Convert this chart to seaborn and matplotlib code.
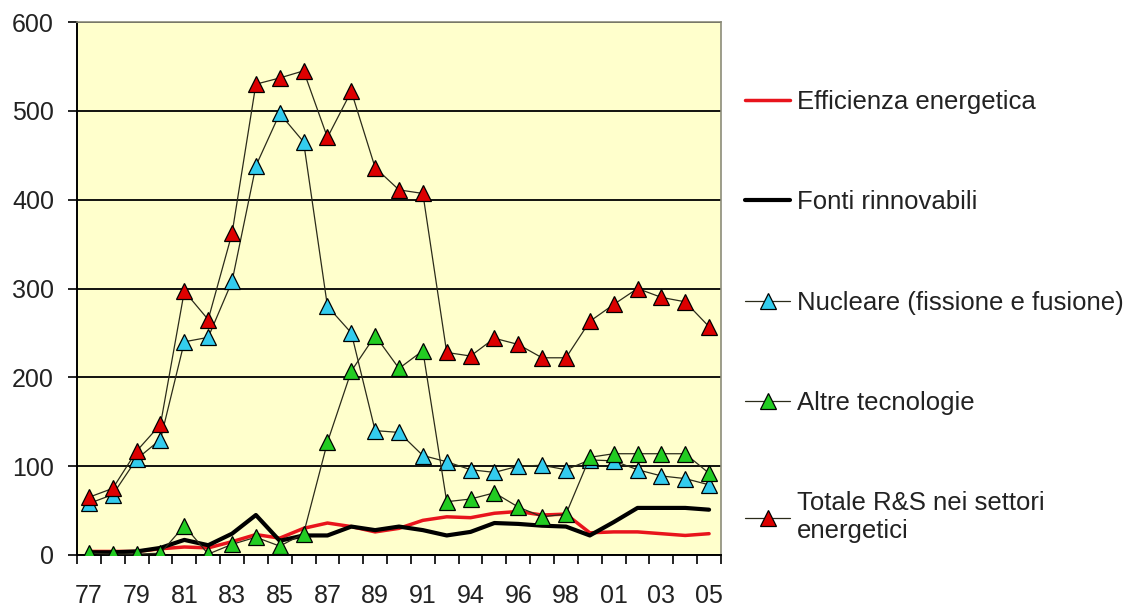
import matplotlib
matplotlib.use("Agg")
import matplotlib.pyplot as plt
import numpy as np
import seaborn as sns

# Years on the category axis (two years have no data in the source series)
years = ["77", "78", "79", "80", "81", "82", "83", "84", "85", "86", "87", "88",
         "89", "90", "91", "93", "94", "95", "96", "97", "98", "00", "01", "02",
         "03", "04", "05"]

efficienza = [4, 4, 4, 7, 9, 8, 15, 23, 19, 30, 36, 32, 26, 30, 39, 43, 42, 47,
              49, 45, 46, 25, 26, 26, 24, 22, 24]
fonti = [3, 3, 4, 8, 17, 11, 24, 45, 16, 22, 22, 32, 28, 32, 28, 22, 26, 36,
         35, 33, 32, 22, 37, 53, 53, 53, 51]
nucleare = [58, 68, 108, 130, 240, 245, 308, 438, 497, 465, 280, 250, 140, 138,
            112, 105, 96, 93, 100, 101, 96, 107, 106, 96, 89, 86, 79]
altre = [2, 1, 1, 2, 33, 1, 12, 20, 10, 24, 127, 207, 247, 210, 230, 60, 63,
         70, 54, 43, 46, 110, 114, 114, 114, 114, 92]
totale = [65, 75, 117, 147, 297, 265, 362, 530, 537, 545, 470, 522, 436, 411,
          407, 228, 224, 244, 237, 222, 222, 263, 282, 300, 290, 285, 257]

sns.set_theme(style="white")
plt.rcParams["font.family"] = ["Liberation Sans", "DejaVu Sans"]

fig = plt.figure(figsize=(11.36, 6.06), dpi=100)
ax = fig.add_axes([77 / 1136, 1 - 555 / 606, (721 - 77) / 1136, (555 - 22) / 606])
ax.set_facecolor("#FFFFCC")

x = np.arange(len(years))
connector = "#2b2b1a"

sns.lineplot(x=x, y=efficienza, ax=ax, color="#E8141C", linewidth=2.5,
             label="Efficienza energetica", zorder=3)
sns.lineplot(x=x, y=fonti, ax=ax, color="black", linewidth=3.0,
             label="Fonti rinnovabili", zorder=3)
marker_series = [
    (nucleare, "#33CCEE", "Nucleare (fissione e fusione)"),
    (altre, "#22CC22", "Altre tecnologie"),
    (totale, "#DD0000", "Totale R&S nei settori\nenergetici"),
]
for vals, face, lab in marker_series:
    sns.lineplot(x=x, y=vals, ax=ax, color=connector, linewidth=0.9,
                 marker="^", markersize=11, markerfacecolor=face,
                 markeredgecolor="black", markeredgewidth=0.9,
                 label=lab, zorder=4)

ax.set_xlim(-0.5, len(years) - 0.5)
ax.set_ylim(0, 600)
ax.set_yticks(range(0, 601, 100))
ax.grid(axis="y", color="black", linewidth=1.3)
ax.grid(axis="x", visible=False)
ax.set_axisbelow(True)

# Year labels on every other category, boundary tick marks between categories
ax.set_xticks(x[::2])
ax.set_xticklabels(years[::2])
ax.set_xticks(np.arange(-0.5, len(years), 1.0), minor=True)
ax.tick_params(axis="x", which="major", length=0, pad=21, labelsize=18,
               colors="#222222")
ax.tick_params(axis="x", which="minor", length=6.5, width=1.2, color="black",
               direction="out", bottom=True)
ax.tick_params(axis="y", which="major", length=6.5, width=1.2, color="black",
               direction="out", left=True, pad=10, labelsize=18,
               labelcolor="#222222")

for side in ("left", "bottom"):
    ax.spines[side].set_color("black")
    ax.spines[side].set_linewidth(1.4)
for side in ("top", "right"):
    ax.spines[side].set_color("#8c8c7a")
    ax.spines[side].set_linewidth(1.2)

handles, labels = ax.get_legend_handles_labels()
ax.legend_.remove()
fig.legend(handles, labels, loc="upper left", bbox_to_anchor=(722 / 1136, 1 - 67 / 606),
           frameon=False, fontsize=18.5, labelspacing=2.97, handlelength=1.75,
           handletextpad=0.27, labelcolor="#222222")

fig.savefig("out.png", dpi=100, facecolor="white")
